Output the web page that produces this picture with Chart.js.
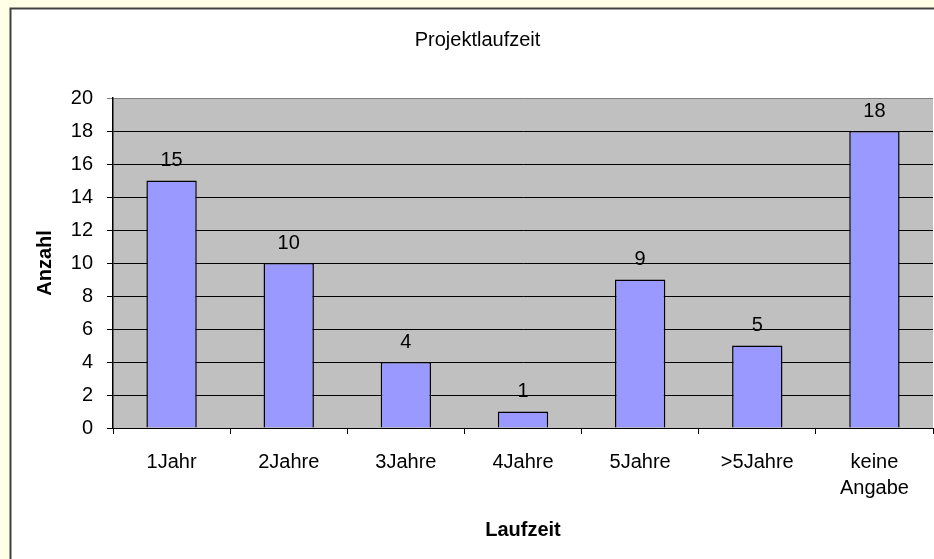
<!DOCTYPE html>
<html>
<head>
<meta charset="utf-8">
<title>Projektlaufzeit</title>
<script src="https://cdn.jsdelivr.net/npm/chart.js@4.4.1/dist/chart.umd.min.js"></script>
<style>
  html, body { margin: 0; padding: 0; background: #FFFFE5; overflow: hidden; }
  canvas { display: block; }
</style>
</head>
<body>
<canvas id="chart" width="934" height="559"></canvas>
<script>
// Projektlaufzeit - Anzahl der Projekte je Laufzeit
const categories = ['1Jahr', '2Jahre', '3Jahre', '4Jahre', '5Jahre', '>5Jahre', ['keine', 'Angabe']];
const counts = [15, 10, 4, 1, 9, 5, 18];
const yTicks = [0, 2, 4, 6, 8, 10, 12, 14, 16, 18, 20];

const FONT = '"Liberation Sans", Arial, sans-serif';

// page frame + grey plot area
const backdrop = {
  id: 'backdrop',
  beforeDraw(chart) {
    const ctx = chart.ctx;
    const a = chart.chartArea;
    const w = chart.width, h = chart.height;
    ctx.save();
    ctx.fillStyle = '#FFFFE5';
    ctx.fillRect(0, 0, w, h);
    ctx.fillStyle = '#FFFFFF';
    ctx.fillRect(10, 8, w - 10, h - 8);
    // only the left and top edges of the frame are visible
    ctx.strokeStyle = '#404040';
    ctx.lineWidth = 2;
    ctx.beginPath();
    ctx.moveTo(10.5, h);
    ctx.lineTo(10.5, 8.5);
    ctx.lineTo(w, 8.5);
    ctx.stroke();
    ctx.fillStyle = '#C0C0C0';
    ctx.fillRect(a.left, a.top, a.right - a.left, a.bottom - a.top);
    ctx.restore();
  }
};

// value above each bar
const valueLabels = {
  id: 'valueLabels',
  afterDatasetsDraw(chart) {
    const ctx = chart.ctx;
    const meta = chart.getDatasetMeta(0);
    ctx.save();
    ctx.font = '20px ' + FONT;
    ctx.fillStyle = '#000';
    ctx.textAlign = 'center';
    ctx.textBaseline = 'middle';
    meta.data.forEach((bar, i) => {
      ctx.fillText(String(counts[i]), bar.x, bar.y - 20);
    });
    ctx.restore();
  }
};

new Chart(document.getElementById('chart'), {
  type: 'bar',
  data: {
    labels: categories,
    datasets: [{
      data: counts,
      backgroundColor: '#9999FF',
      borderColor: '#000000',
      borderWidth: 1.5,
      categoryPercentage: 1,
      barPercentage: 0.43
    }]
  },
  options: {
    responsive: false,
    animation: false,
    layout: { padding: { left: 22, right: 1, top: 0, bottom: 0 } },
    plugins: {
      legend: { display: false },
      tooltip: { enabled: false },
      title: {
        display: true,
        text: 'Projektlaufzeit',
        color: '#000',
        font: { family: FONT, size: 20, weight: 'normal', lineHeight: 1.2 },
        padding: { top: 28, bottom: 46 }
      }
    },
    scales: {
      x: {
        afterFit: s => { s.height = 131; },
        grid: {
          offset: true,
          drawOnChartArea: false,
          drawTicks: true,
          tickLength: 6,
          color: '#000'
        },
        border: { color: '#000', width: 1 },
        ticks: {
          color: '#000',
          padding: 15,
          maxRotation: 0,
          autoSkip: false,
          font: { family: FONT, size: 20, lineHeight: 1.3 }
        },
        title: {
          display: true,
          text: 'Laufzeit',
          color: '#000',
          font: { family: FONT, size: 20, weight: 'bold', lineHeight: 1.2 },
          padding: { top: 17, bottom: 17 }
        }
      },
      y: {
        min: 0,
        max: 20,
        afterFit: s => { s.width = 91; },
        afterBuildTicks: s => { s.ticks = yTicks.map(v => ({ value: v })); },
        grid: {
          color: ctx => (ctx.tick && ctx.tick.value === 20 ? '#808080' : '#000'),
          lineWidth: 1,
          drawTicks: true,
          tickLength: 6
        },
        border: { color: '#000', width: 1.5 },
        ticks: {
          color: '#000',
          padding: 14,
          font: { family: FONT, size: 20 }
        },
        title: {
          display: true,
          text: 'Anzahl',
          color: '#000',
          font: { family: FONT, size: 20, weight: 'bold', lineHeight: 1.2 },
          padding: { top: 11, bottom: 0 }
        }
      }
    }
  },
  plugins: [backdrop, valueLabels]
});
</script>
</body>
</html>
